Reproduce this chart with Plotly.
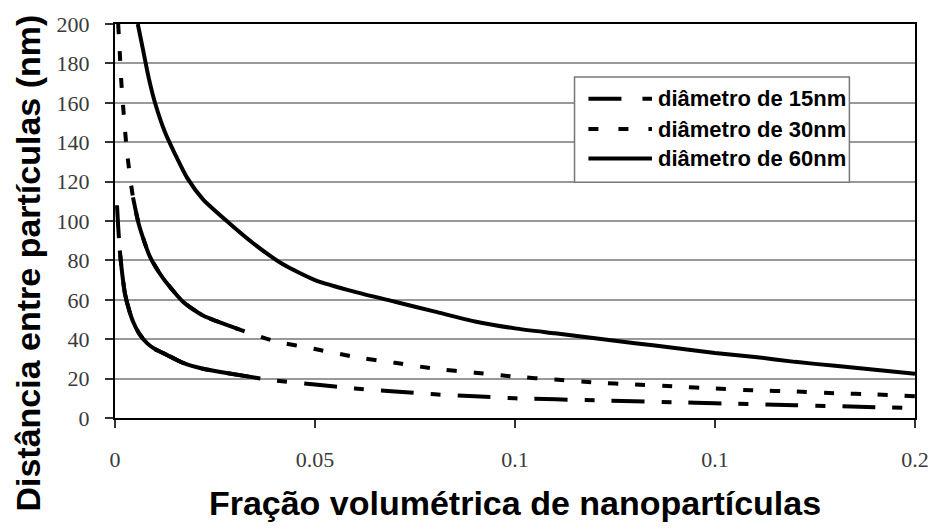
import plotly.graph_objects as go

# Volume fraction (x) and interparticle distance in nm (y) for each particle diameter
phi_15 = [0.0005, 0.0008, 0.0012, 0.0017, 0.0025, 0.0035, 0.0045, 0.006, 0.008, 0.010,
          0.013, 0.017, 0.022, 0.0275, 0.0335, 0.04, 0.05, 0.06, 0.07, 0.08, 0.09, 0.1,
          0.12, 0.14, 0.15, 0.17, 0.19, 0.2]
dist_15 = [108, 97, 85, 75, 63, 55, 49, 43, 38, 35,
           32, 28, 25, 23, 21, 19, 17, 15, 13.5, 12, 11, 10,
           9, 8, 7.5, 6.5, 5.5, 5]

phi_30 = [0.0008, 0.0012, 0.0016, 0.002, 0.003, 0.0045, 0.006, 0.0087, 0.012, 0.017,
          0.022, 0.031, 0.04, 0.05, 0.06, 0.07, 0.08, 0.09, 0.1, 0.11, 0.12, 0.13, 0.14,
          0.15, 0.16, 0.17, 0.18, 0.19, 0.2]
dist_30 = [200, 185, 170, 159, 135, 112, 98, 82, 71, 59,
           52, 45, 39, 35, 31, 28, 25, 23, 21, 19.5, 18, 17, 16,
           15, 14, 13.5, 12.5, 12, 11]

phi_60 = [0.0057, 0.007, 0.0085, 0.010, 0.0125, 0.015, 0.018, 0.022, 0.0285, 0.035,
          0.042, 0.05, 0.06, 0.07, 0.08, 0.09, 0.1, 0.11, 0.12, 0.13, 0.14, 0.15, 0.16,
          0.17, 0.18, 0.19, 0.2]
dist_60 = [200, 187, 172, 160, 145, 134, 122, 111, 99, 88,
           78, 70, 64, 59, 54, 49, 45.5, 43, 40.5, 38, 35.5, 33, 31,
           28.5, 26.5, 24.5, 22.5]

x_ticks = [0, 0.05, 0.1, 0.15, 0.2]
x_tick_labels = ["0", "0.05", "0.1", "0.1", "0.2"]
y_ticks = [0, 20, 40, 60, 80, 100, 120, 140, 160, 180, 200]

# name, x, y, dash on the curve, dash in the key, range drawn as a continuous stroke
series = [
    ("diâmetro de 15nm", phi_15, dist_15, "33px,17px,10px,17px", "33px,21px,10px,21px", (0.0012, 0.0335)),
    ("diâmetro de 30nm", phi_30, dist_30, "10px,17px", "10px,20px", (0.004, 0.031)),
    ("diâmetro de 60nm", phi_60, dist_60, "solid", "solid", None),
]

LINE_W = 4
fig = go.Figure()
for name, xs, ys, dash, _, solid_span in series:
    fig.add_trace(go.Scatter(
        x=xs, y=ys, name=name, mode="lines", showlegend=False,
        line=dict(color="black", width=LINE_W, dash=dash, shape="spline", smoothing=0.6),
    ))
    if solid_span:
        lo, hi = solid_span
        sx = [x for x in xs if lo <= x <= hi]
        sy = [y for x, y in zip(xs, ys) if lo <= x <= hi]
        fig.add_trace(go.Scatter(
            x=sx, y=sy, mode="lines", showlegend=False, hoverinfo="skip",
            line=dict(color="black", width=LINE_W, shape="spline", smoothing=0.6),
        ))

# Key box drawn in paper coordinates, with wide line samples
key_x0, key_x1, key_y0, key_y1 = 0.5744, 0.918, 0.5985, 0.8653
fig.add_shape(type="rect", xref="paper", yref="paper",
              x0=key_x0, x1=key_x1, y0=key_y0, y1=key_y1,
              line=dict(color="#777", width=1.5), fillcolor="white", layer="above")
row_y = [0.8105, 0.7332, 0.6584]
for (name, _, _, _, key_dash, _), ry in zip(series, row_y):
    fig.add_shape(type="line", xref="paper", yref="paper",
                  x0=0.5918, x1=0.6712, y0=ry, y1=ry, layer="above",
                  line=dict(color="black", width=LINE_W, dash=key_dash))
    fig.add_annotation(xref="paper", yref="paper", x=0.6762, y=ry,
                       xanchor="left", yanchor="middle", showarrow=False, text=name,
                       font=dict(family="Liberation Sans", size=22, color="black", weight="bold"))

# Vertical axis title, centred on the full figure height
fig.add_annotation(xref="paper", yref="paper", x=-0.109, y=0.394,
                   xanchor="center", yanchor="middle", showarrow=False, textangle=-90,
                   text="Distância entre partículas (nm)",
                   font=dict(family="Liberation Sans", size=34, color="black", weight="bold"))

fig.update_layout(
    width=941, height=532,
    margin=dict(l=115, r=20, t=17, b=114),
    paper_bgcolor="white", plot_bgcolor="white",
    showlegend=False,
    xaxis=dict(
        range=[0, 0.2], tickvals=x_ticks, ticktext=x_tick_labels,
        showgrid=False, zeroline=False,
        showline=True, linecolor="black", linewidth=2, mirror=True,
        ticks="outside", ticklen=8, tickcolor="#333", tickwidth=1.5,
        tickfont=dict(family="Liberation Serif", size=22, color="#3a3a3a"),
        ticklabelstandoff=13,
        title=dict(text="Fração volumétrica de nanopartículas",
                   font=dict(family="Liberation Sans", size=34, color="black", weight="bold"),
                   standoff=20),
    ),
    yaxis=dict(
        range=[0, 200], tickvals=y_ticks,
        showgrid=True, gridcolor="#999", gridwidth=1.5, zeroline=False,
        showline=True, linecolor="black", linewidth=2, mirror=True,
        ticks="outside", ticklen=8, tickcolor="#333", tickwidth=1.5,
        tickfont=dict(family="Liberation Serif", size=22, color="#3a3a3a"),
        ticklabelstandoff=11,
    ),
)

fig.write_html("out.html")
